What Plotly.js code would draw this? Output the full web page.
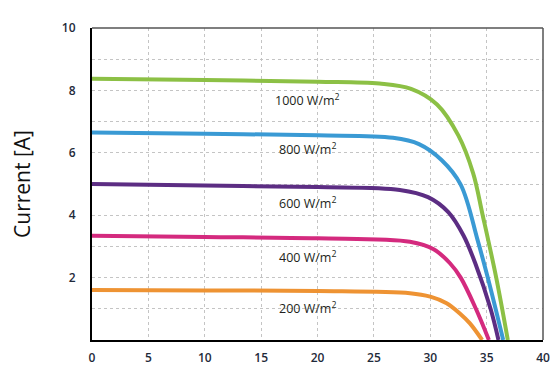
<!DOCTYPE html>
<html>
<head>
<meta charset="utf-8">
<script src="https://cdn.plot.ly/plotly-3.0.1.min.js"></script>
<style>html,body{margin:0;padding:0;background:#fff;}#chart{width:559px;height:371px;}</style>
</head>
<body>
<div id="chart"></div>
<script>
// Voltage [V] and current [A]
const v1000 = [0, 10, 20, 25.5, 28.3, 30.6, 32.5, 33.8, 34.65, 35.85, 36.88];
const i1000 = [8.37, 8.33, 8.28, 8.22, 8.05, 7.55, 6.55, 5.35, 4.0, 2.0, 0];
const v800 = [0, 10, 20, 26.7, 29.0, 31.0, 32.7, 34.2, 35.1, 36.47];
const i800 = [6.65, 6.61, 6.56, 6.48, 6.28, 5.77, 4.98, 3.2, 2.0, 0];
const v600 = [0, 10, 20, 27.3, 29.8, 31.6, 32.95, 34.0, 35.35, 36.05];
const i600 = [5.0, 4.95, 4.9, 4.81, 4.58, 4.1, 3.35, 2.45, 1.0, 0];
const v400 = [0, 10, 20, 28.2, 30.3, 31.75, 32.7, 34.05, 35.2];
const i400 = [3.34, 3.30, 3.26, 3.15, 2.91, 2.46, 2.0, 1.0, 0];
const v200 = [0, 10, 20, 28.2, 30.0, 31.45, 32.6, 33.5, 34.6];
const i200 = [1.6, 1.59, 1.57, 1.50, 1.39, 1.18, 0.86, 0.54, 0];

const seriesNames = ["1000 W/m²", "800 W/m²", "600 W/m²", "400 W/m²", "200 W/m²"];
const labelX = [19.1, 19.1, 19.1, 19.1, 19.1];
const labelY = [7.69, 6.12, 4.39, 2.66, 1.03];
const yTickVals = [2, 4, 6, 8, 10];
const yTickText = ["2", "4", "6", "8", "10"];
const xTickVals = [0, 5, 10, 15, 20, 25, 30, 35, 40];

const colors = ['#8cc045', '#3a9ad4', '#5c2d83', '#d42a7e', '#ee9333'];
const vs = [v1000, v800, v600, v400, v200];
const is = [i1000, i800, i600, i400, i200];

const traces = vs.map((v, k) => ({
  x: v, y: is[k], type: 'scatter', mode: 'lines', name: seriesNames[k],
  line: {color: colors[k], width: 4, shape: 'spline', smoothing: 1.0},
  hoverinfo: 'skip'
}));

const annotations = seriesNames.map((t, k) => ({
  x: labelX[k], y: labelY[k], xref: 'x', yref: 'y', text: t.replace('²', '<sup>2</sup>'),
  showarrow: false, xanchor: 'center', yanchor: 'middle',
  font: {family: 'Open Sans', size: 12.5, color: '#231f20', weight: 500}
}));

const layout = {
  width: 559, height: 371,
  margin: {l: 92, r: 16, t: 28, b: 31},
  paper_bgcolor: '#fff', plot_bgcolor: '#fff',
  showlegend: false,
  xaxis: {
    range: [0, 40], tickvals: xTickVals, ticks: '', ticklabelstandoff: 6,
    showgrid: true, gridcolor: '#c4c4c4', griddash: 'dot', gridwidth: 1,
    showline: true, linecolor: '#000', linewidth: 2, zeroline: false,
    tickfont: {family: 'Open Sans', size: 12, color: '#1f2a3a', weight: 600},
    fixedrange: true
  },
  yaxis: {
    range: [0, 10], tickvals: yTickVals, ticktext: yTickText, ticks: '', ticklabelstandoff: 12,
    showgrid: true, gridcolor: '#c4c4c4', griddash: 'dot', gridwidth: 1,
    minor: {dtick: 1, showgrid: true, gridcolor: '#c4c4c4', griddash: 'dot', gridwidth: 1},
    showline: true, linecolor: '#000', linewidth: 2, zeroline: false,
    tickfont: {family: 'Open Sans', size: 12, color: '#1f2a3a', weight: 600},
    title: {text: 'Current [A]', font: {family: 'Open Sans', size: 21, color: '#111'}, standoff: 26},
    fixedrange: true
  },
  shapes: [
    {type: 'line', xref: 'paper', yref: 'paper', x0: 0, x1: 1, y0: 1, y1: 1, line: {color: '#555', width: 1.5}},
    {type: 'line', xref: 'paper', yref: 'paper', x0: 1, x1: 1, y0: 0, y1: 1, line: {color: '#555', width: 1.5}}
  ],
  annotations: annotations
};

Plotly.newPlot('chart', traces, layout, {staticPlot: true, displayModeBar: false});
</script>
</body>
</html>
